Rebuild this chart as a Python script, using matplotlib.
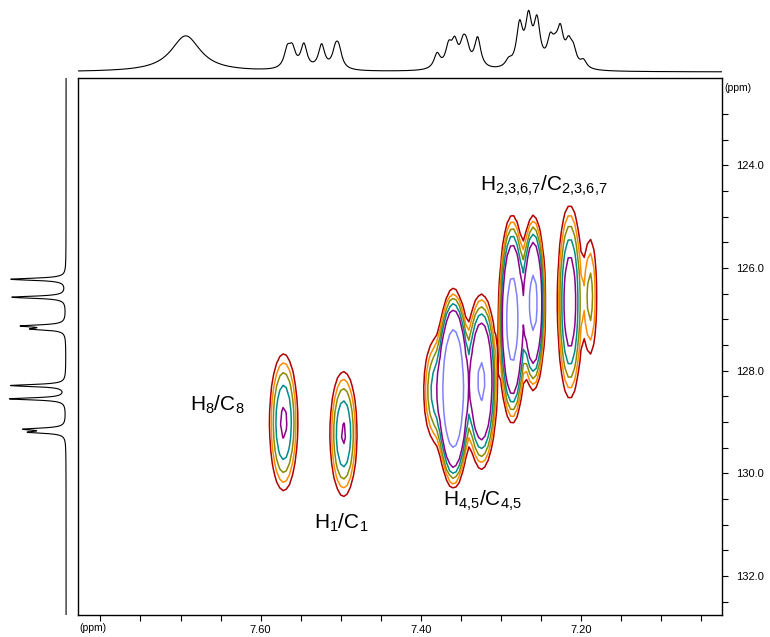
import numpy as np
import matplotlib
matplotlib.use("Agg")
import matplotlib.pyplot as plt
from matplotlib.ticker import FixedLocator, FormatStrFormatter

plt.rcParams['font.family'] = ['Liberation Sans', 'DejaVu Sans']
plt.rcParams['mathtext.fontset'] = 'custom'
plt.rcParams['mathtext.rm'] = 'Liberation Sans'
plt.rcParams['mathtext.it'] = 'Liberation Sans:italic'

# spectral window (ppm)
h_lim = (7.828, 7.024)      # 1H, left -> right
c_lim = (132.76, 122.30)    # 13C, bottom -> top

# HSQC cross peaks: 1H shift, 13C shift, amplitude, widths (sigma)
peak_h = [7.5713, 7.4965, 7.3818, 7.3594, 7.3244, 7.2858, 7.2596, 7.2140, 7.1885]
peak_c = [129.01, 129.23, 128.39, 128.35, 128.21, 127.00, 126.68, 126.66, 126.56]
peak_amp = [5.5, 5.3, 4.0, 70.0, 18.5, 28.0, 22.0, 8.0, 2.6]
peak_sh = [0.0095, 0.0092, 0.0087, 0.0072, 0.0081, 0.0065, 0.0060, 0.0075, 0.0058]
peak_sc = [0.716, 0.66, 0.58, 0.66, 0.70, 0.78, 0.68, 0.92, 0.80]

contour_levels = [1.0, 1.5, 2.2, 3.3, 5.0, 16.0]
contour_colors = ['#b00000', '#ff8c00', '#8b8b00', '#008b8b', '#8b008b', '#7f7fff']

# 1H projection (top): shift, height, line width
proj_h_shift = [7.6935,
                7.5667, 7.5605, 7.5460, 7.5239, 7.5065, 7.5024,
                7.3797, 7.3652, 7.3577, 7.3473, 7.3431, 7.3291,
                7.2904, 7.2767, 7.2655, 7.2550, 7.2384, 7.2322, 7.2259,
                7.2156, 7.2097, 7.1969]
proj_h_height = [0.60,
                 0.30, 0.30, 0.40, 0.40, 0.28, 0.28,
                 0.25, 0.34, 0.38, 0.32, 0.28, 0.50,
                 0.11, 0.68, 0.76, 0.72, 0.40, 0.20, 0.56,
                 0.34, 0.26, 0.13]
proj_h_fwhm = [0.045] + [0.0095] * 22

# 13C projection (left)
proj_c_shift = [126.22, 126.57, 127.13, 127.19, 128.29, 128.55, 129.14, 129.20]
proj_c_height = [1.0, 0.98, 0.75, 0.55, 1.0, 1.02, 0.70, 0.60]
proj_c_fwhm = 0.05

labels = [r'H$_{8}$/C$_{8}$', r'H$_{1}$/C$_{1}$',
          r'H$_{4{,}5}$/C$_{4{,}5}$', r'H$_{2{,}3{,}6{,}7}$/C$_{2{,}3{,}6{,}7}$']
label_h = [7.6536, 7.4990, 7.3229, 7.2471]
label_c = [128.66, 130.96, 130.53, 124.40]


def lorentz(x, x0, h, w):
    return h / (1 + ((x - x0) / (w / 2)) ** 2)


# coarse grid like the acquired 2D data
gh = np.arange(h_lim[1], h_lim[0], 0.004)
gc = np.arange(c_lim[1], c_lim[0], 0.25)
H, C = np.meshgrid(gh, gc)
Z = np.zeros_like(H)
for x0, y0, a, sx, sy in zip(peak_h, peak_c, peak_amp, peak_sh, peak_sc):
    Z += a * np.exp(-((H - x0) ** 2 / (2 * sx ** 2) + (C - y0) ** 2 / (2 * sy ** 2)))

fig = plt.figure(figsize=(7.7, 6.37), dpi=100)
W, Ht = 770, 637
ax = fig.add_axes([78 / W, 1 - 615 / Ht, 644 / W, 537 / Ht])
ax_top = fig.add_axes([78 / W, 1 - 76 / Ht, 644 / W, 68 / Ht])
ax_left = fig.add_axes([5 / W, 1 - 615 / Ht, 71 / W, 537 / Ht])

ax.contour(H, C, Z, levels=contour_levels, colors=contour_colors, linewidths=1.1)
ax.set_xlim(*h_lim)
ax.set_ylim(*c_lim)

ax.xaxis.set_major_locator(FixedLocator([7.6, 7.4, 7.2]))
ax.xaxis.set_minor_locator(FixedLocator(np.arange(7.05, 7.81, 0.05)))
ax.xaxis.set_major_formatter(FormatStrFormatter('%.2f'))
ax.yaxis.tick_right()
ax.yaxis.set_major_locator(FixedLocator([124, 126, 128, 130, 132]))
ax.yaxis.set_minor_locator(FixedLocator(np.arange(123.0, 132.6, 0.5)))
ax.yaxis.set_major_formatter(FormatStrFormatter('%.1f'))
ax.tick_params(which='both', direction='out', labelsize=8, width=0.8, length=4)
ax.tick_params(axis='x', which='major', pad=3)
ax.tick_params(axis='y', which='major', pad=6)
for s in ax.spines.values():
    s.set_linewidth(1.0)

for txt, x, y in zip(labels, label_h, label_c):
    ax.text(x, y, txt, fontsize=15, ha='center', va='center')

fig.text(724 / W, 1 - 88 / Ht, '(ppm)', fontsize=7.5, ha='left', va='center')
fig.text(79 / W, 1 - 628 / Ht, '(ppm)', fontsize=7.5, ha='left', va='center')

# top projection
xh = np.linspace(h_lim[0], h_lim[1], 4000)
yh = np.zeros_like(xh)
for x0, h, w in zip(proj_h_shift, proj_h_height, proj_h_fwhm):
    yh += lorentz(xh, x0, h, w)
ax_top.plot(xh, yh, color='black', lw=0.8)
ax_top.set_xlim(*h_lim)
ax_top.set_ylim(-0.067, 1.067)
ax_top.axis('off')

# left projection
yc = np.linspace(c_lim[1], c_lim[0], 4000)
xc = np.zeros_like(yc)
for y0, h in zip(proj_c_shift, proj_c_height):
    xc += lorentz(yc, y0, h, proj_c_fwhm)
ax_left.plot(xc, yc, color='black', lw=0.8)
ax_left.set_ylim(*c_lim)
ax_left.set_xlim(1.11, -0.18)
ax_left.axis('off')

fig.savefig('out.png', dpi=100)
